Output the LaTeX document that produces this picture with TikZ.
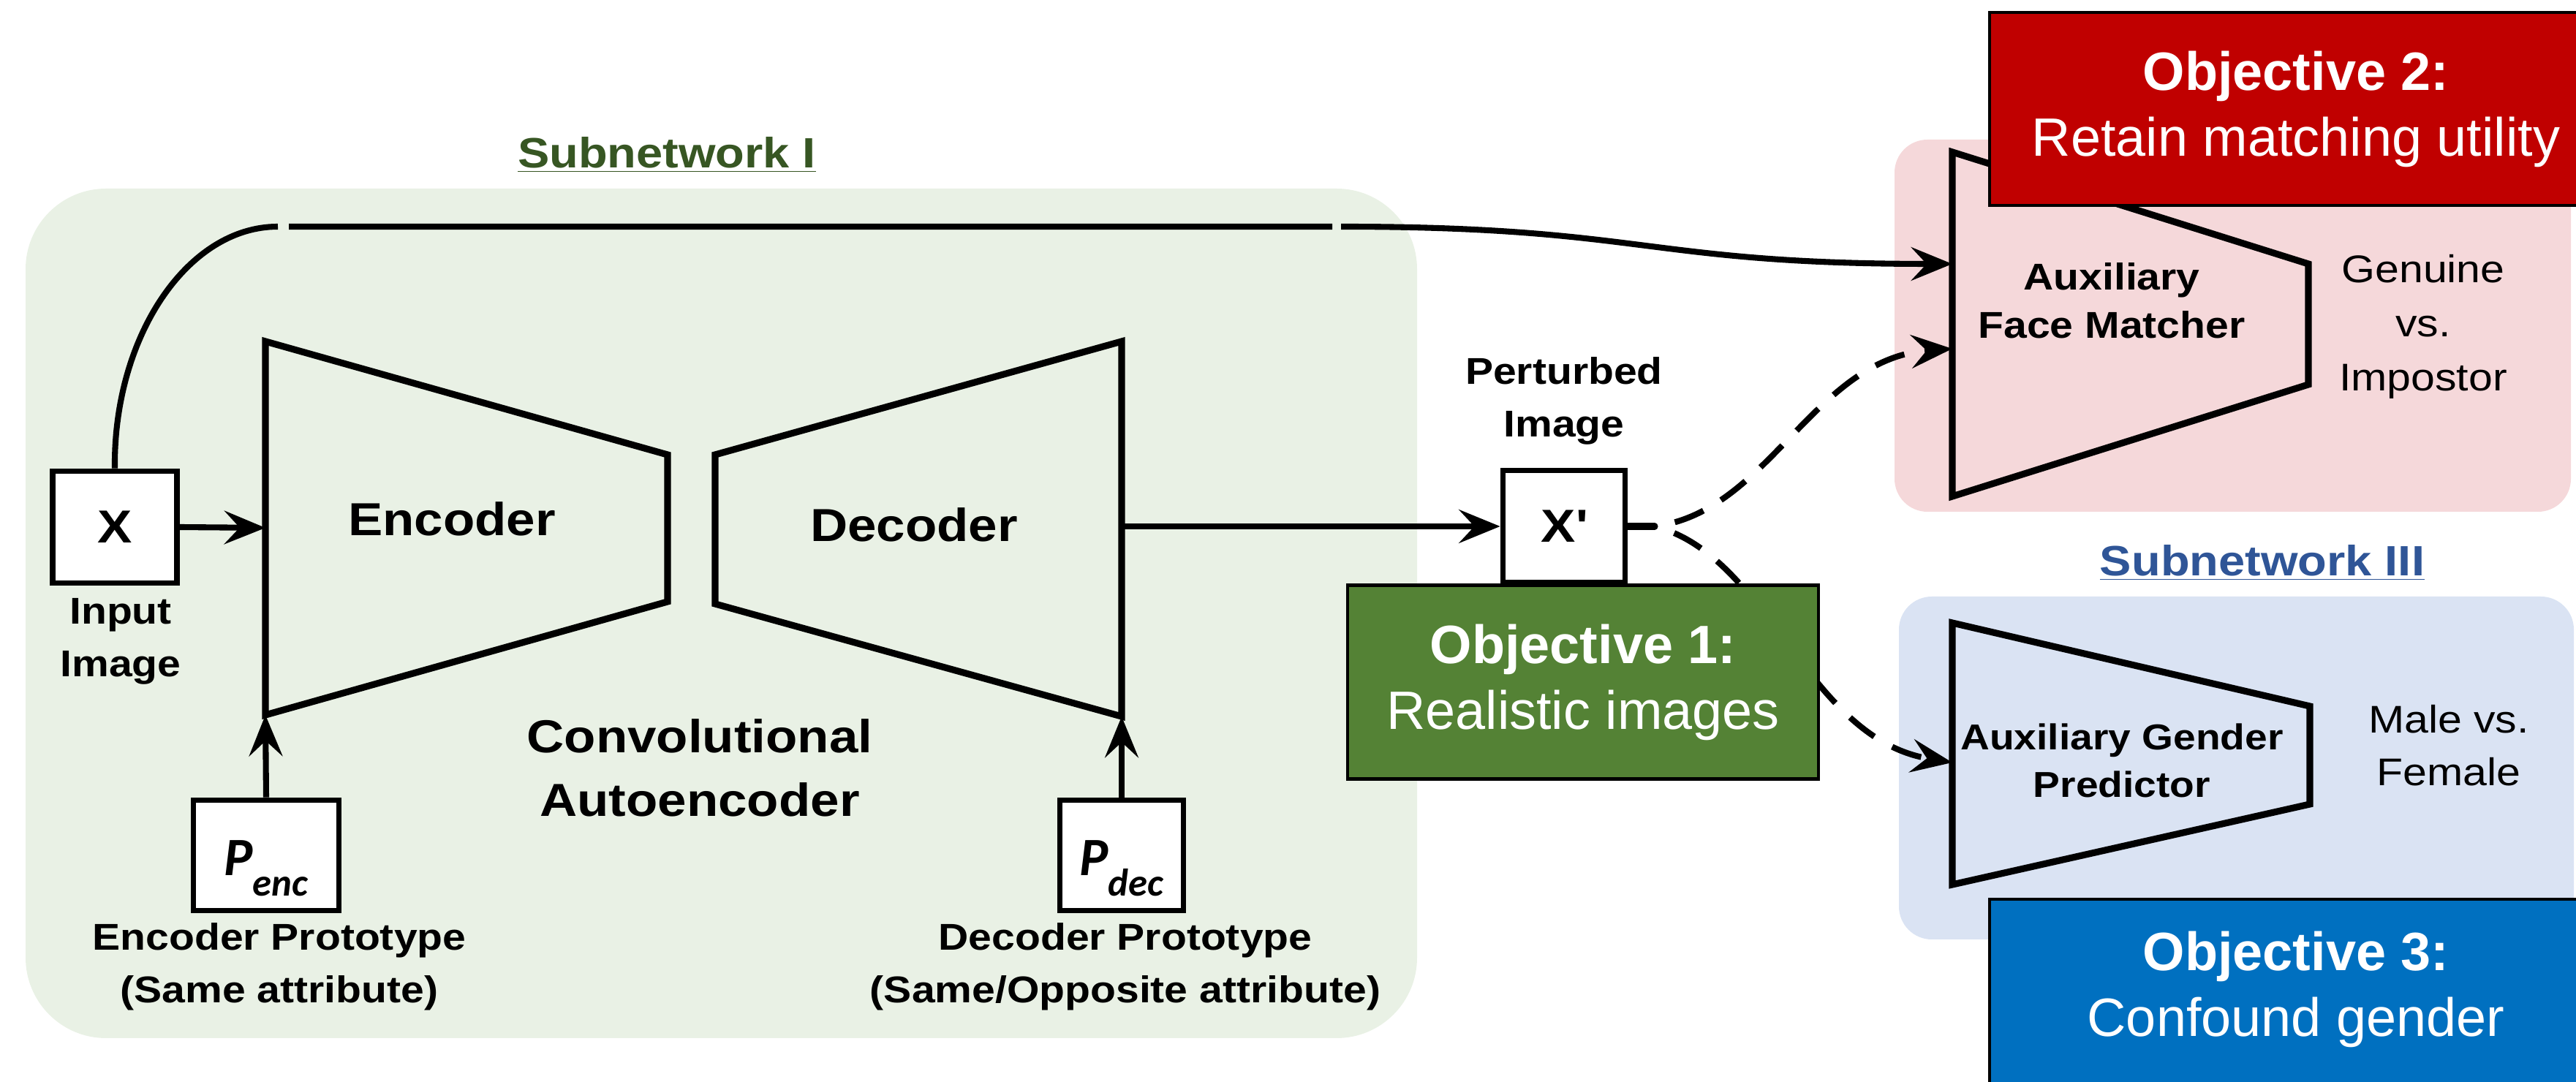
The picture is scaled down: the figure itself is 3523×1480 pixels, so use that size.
\documentclass[tikz,border=0pt]{standalone}
\usepackage{fontspec}
\setmainfont{Liberation Sans}
\newfontfamily\lblfont[FakeStretch=1.12]{Liberation Sans}
\newfontfamily\protofont{Carlito}
\usetikzlibrary{arrows.meta}

\definecolor{panelgreen}{RGB}{233,241,229}
\definecolor{panelpink}{RGB}{245,216,218}
\definecolor{panelblue}{RGB}{218,227,243}
\definecolor{objred}{RGB}{192,0,0}
\definecolor{objgreen}{RGB}{84,130,53}
\definecolor{objblue}{RGB}{0,112,192}
\definecolor{titlegreen}{RGB}{55,86,35}
\definecolor{titleblue}{RGB}{47,85,151}

\tikzset{
  netline/.style={line width=2.6pt},
  flow/.style={line width=2.3pt, -{Stealth[length=16pt, width=13pt, inset=6pt]}},
  dashflow/.style={flow, dash pattern=on 12pt off 8pt, dash phase=12pt},
  imgbox/.style={draw, line width=2.2pt, fill=white, minimum width=1.7cm, minimum height=1.53cm, inner sep=0pt,
    font=\lblfont\bfseries\fontsize{18}{18}\selectfont},
  protobox/.style={imgbox, minimum height=1.51cm, text height=0.94cm, text depth=0.4cm, font=\protofont\bfseries\itshape},
  lbl/.style={align=center, font=\lblfont\bfseries\fontsize{14.5}{20.5}\selectfont},
  biglbl/.style={align=center, font=\lblfont\bfseries\fontsize{18}{24.7}\selectfont},
  outlbl/.style={align=center, font=\lblfont\fontsize{15}{21}\selectfont},
  nettitle/.style={font=\lblfont\bfseries\fontsize{16.5}{20}\selectfont},
  objbox/.style={draw=black, line width=1.2pt, text=white, align=center, inner sep=0pt,
    font=\fontsize{21}{25.6}\selectfont}
}

\newcommand{\proto}[1]{{\fontsize{21}{21}\selectfont P}\raisebox{-8pt}{\fontsize{15}{15}\selectfont #1}}

\begin{document}
\begin{tikzpicture}[x=0.01cm, y=-0.01cm]
    \useasboundingbox (0,0) rectangle (3523,1480);

    % panels

    \fill[panelgreen, rounded corners=1.1cm] (35,258) rectangle (1938,1420);
    \fill[panelpink, rounded corners=0.45cm] (2591,191) rectangle (3516,700);
    \fill[panelblue, rounded corners=0.45cm] (2597,816) rectangle (3520,1285);

    \node[nettitle, text=titlegreen] (sub1) at (912,212) {\underline{Subnetwork I}};
    \node[nettitle, text=titleblue] (sub3) at (3094,770) {\underline{Subnetwork III}};

    % encoder and decoder

    \draw[netline] (363,467) -- (913,622) -- (913,823) -- (363,978) -- cycle;
    \draw[netline] (978,622) -- (1534,467) -- (1534,980) -- (978,826) -- cycle;
    \coordinate (encin) at (363,722);
    \coordinate (encbl) at (363,978);
    \coordinate (decout) at (1534,720);
    \coordinate (decbr) at (1534,980);

    \node[biglbl] (enclbl) at (618,710) {Encoder};
    \node[biglbl] (declbl) at (1250,718) {Decoder};
    \node[biglbl] (cae) at (957,1050) {Convolutional\\Autoencoder};

    % input image and prototypes

    \node[imgbox] (xin) at (157,721) {X};
    \node[lbl] (xinlbl) at (165,877) {Input\\Image};

    \node[protobox, minimum width=1.99cm] (penc) at (364,1170) {\proto{enc}};
    \node[protobox, minimum width=1.69cm] (pdec) at (1534,1170) {\proto{dec}};
    \node[lbl] (penclbl) at (382,1322) {Encoder Prototype\\(Same attribute)};
    \node[lbl] (pdeclbl) at (1539,1322) {Decoder Prototype\\(Same/Opposite attribute)};

    \draw[flow] (xin.east) -- (encin);
    \draw[flow] (penc.north) -- (encbl);
    \draw[flow] (pdec.north) -- (decbr);

    % perturbed image

    \node[imgbox, minimum width=1.67cm] (xout) at (2139,720) {X\textquotesingle};
    \node[lbl] (xoutlbl) at (2139,548) {Perturbed\\Image};
    \draw[flow] (decout) -- (xout.west);

    % auxiliary face matcher

    \draw[netline] (2670,208) -- (3157,361) -- (3157,526) -- (2670,679) -- cycle;
    \node[lbl, font=\lblfont\bfseries\fontsize{14.5}{18.8}\selectfont] (fmlbl) at (2888,411) {Auxiliary\\Face Matcher};
    \node[outlbl] (fmout) at (3314,447) {Genuine\\vs.\\Impostor};

    % auxiliary gender predictor

    \draw[netline] (2670,852) -- (3159,966) -- (3159,1100) -- (2670,1210) -- cycle;
    \node[lbl, font=\lblfont\bfseries\fontsize{14}{18.5}\selectfont] (gplbl) at (2902,1040) {Auxiliary Gender\\Predictor};
    \node[outlbl, font=\lblfont\fontsize{15}{20.5}\selectfont] (gpout) at (3349,1020) {Male vs.\\Female};

    % connectors to the auxiliary networks

    \coordinate (fmin) at (2670,361);
    \coordinate (fmin2) at (2670,477);
    \coordinate (gpin) at (2670,1043);
    \coordinate (fork) at (2263,720);

    \draw[flow] (xin.north) .. controls (155,461) and (256,310) .. (380,310)
        (395,310) -- (1822,310)
        (1834,310) .. controls (2250,310) and (2250,361) .. (fmin);
    \draw[netline, line cap=round] (xout.east) -- (fork);
    \draw[dashflow] (fork) .. controls (2420,700) and (2480,490) .. (fmin2);
    \draw[dashflow] (fork) .. controls (2420,760) and (2470,1010) .. (gpin);

    % objectives

    \node[objbox, fill=objgreen, minimum width=6.44cm, minimum height=2.65cm] (obj1) at (2165,933)
        {\textbf{Objective 1:}\\Realistic images};
    \node[objbox, fill=objred, minimum width=8.38cm, minimum height=2.64cm] (obj2) at (3140,149)
        {\textbf{Objective 2:}\\Retain matching utility};
    \filldraw[fill=objblue, draw=black, line width=1.2pt] (2721,1230) rectangle (3560,1540);
    \node[objbox, draw=none] (obj3) at (3140,1353) {\textbf{Objective 3:}\\Confound gender};

\end{tikzpicture}
\end{document}
